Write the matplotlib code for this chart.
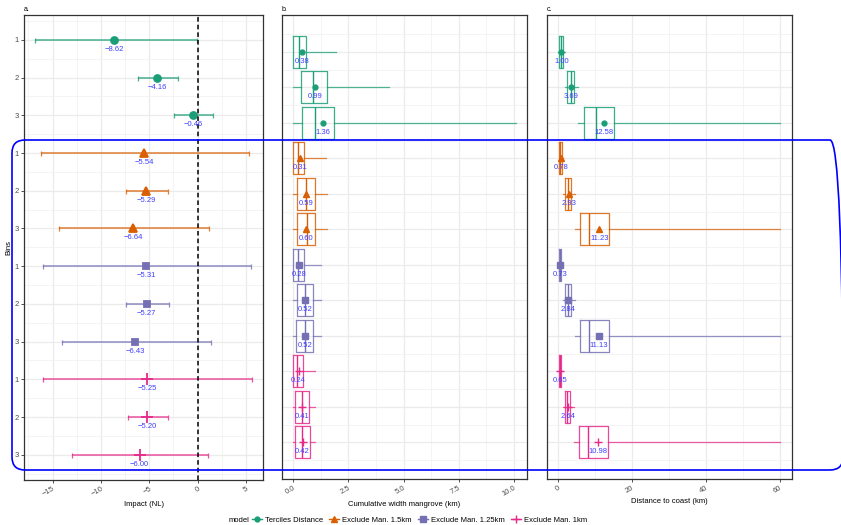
import matplotlib
matplotlib.use("Agg")
import matplotlib.pyplot as plt
from matplotlib.lines import Line2D
from matplotlib.patches import FancyBboxPatch
from matplotlib.ticker import MultipleLocator, FixedLocator

plt.rcParams['font.family'] = ['Liberation Sans', 'DejaVu Sans']

# ---------------- data ----------------
models = ["Terciles Distance", "Exclude Man. 1.5km", "Exclude Man. 1.25km", "Exclude Man. 1km"]
bins = ["1", "2", "3"]

# panel a: impact (NL)
impact_est = [-8.62, -4.16, -0.46, -5.54, -5.29, -6.64, -5.31, -5.27, -6.43, -5.25, -5.20, -6.00]
impact_lo = [-16.8, -6.2, -2.45, -16.2, -7.4, -14.3, -16.0, -7.4, -14.0, -16.0, -7.2, -13.0]
impact_hi = [-0.07, -2.04, 1.58, 5.3, -3.07, 1.17, 5.5, -2.97, 1.38, 5.6, -3.07, 1.07]

# panel b: cumulative width mangrove (km)
mang_lo = [0.0, 0.0, 0.0, 0.0, 0.0, 0.0, 0.0, 0.0, 0.0, 0.0, 0.0, 0.0]
mang_q1 = [0.0, 0.34, 0.38, 0.0, 0.18, 0.15, 0.0, 0.15, 0.12, 0.0, 0.09, 0.09]
mang_med = [0.27, 0.88, 0.99, 0.23, 0.59, 0.62, 0.23, 0.52, 0.52, 0.15, 0.39, 0.41]
mang_q3 = [0.59, 1.52, 1.84, 0.50, 0.97, 0.97, 0.48, 0.88, 0.88, 0.42, 0.73, 0.74]
mang_hi = [1.93, 4.35, 10.12, 1.47, 1.52, 1.52, 1.24, 1.24, 1.24, 1.0, 1.0, 1.0]
mang_mean = [0.38, 0.99, 1.36, 0.31, 0.59, 0.60, 0.28, 0.52, 0.52, 0.24, 0.41, 0.42]

# panel c: distance to coast (km)
coast_lo = [0.0, 2.0, 5.6, 0.27, 1.54, 4.7, 0.18, 1.54, 4.7, 0.2, 1.54, 4.5]
coast_q1 = [0.35, 2.6, 7.1, 0.35, 2.08, 5.96, 0.25, 1.99, 5.96, 0.25, 1.9, 5.7]
coast_med = [0.9, 3.5, 10.4, 0.65, 2.8, 8.58, 0.6, 2.8, 8.5, 0.55, 2.5, 8.13]
coast_q3 = [1.5, 4.5, 15.1, 1.08, 3.52, 13.73, 1.0, 3.52, 13.73, 1.0, 3.34, 13.6]
coast_hi = [2.0, 5.6, 60.0, 1.3, 4.7, 60.0, 1.2, 4.7, 60.0, 1.2, 4.4, 60.0]
coast_mean = [1.00, 3.69, 12.58, 0.78, 2.93, 11.23, 0.73, 2.84, 11.13, 0.65, 2.64, 10.98]

colors = ['#1B9E77', '#D95F02', '#7570B3', '#E7298A']
markers = ['o', '^', 's', '+']
label_color = '#3F3FFF'
FS = 5.5


def fmt(v):
    return f"{v:.2f}".replace('-', '\u2212')


def style_axis(ax):
    ax.set_facecolor('white')
    for s in ax.spines.values():
        s.set_color('#333333')
        s.set_linewidth(0.9)
    ax.grid(which='major', color='#EBEBEB', lw=0.9, zorder=0)
    ax.grid(which='minor', color='#F2F2F2', lw=0.6, zorder=0)
    ax.set_axisbelow(True)
    ax.tick_params(axis='x', which='major', length=2.5, width=0.6, color='#333333',
                   labelsize=FS, labelcolor='#4D4D4D', pad=1.5)
    ax.tick_params(which='minor', length=0)
    for lab in ax.get_xticklabels():
        lab.set_rotation(30)
        lab.set_ha('right')
        lab.set_rotation_mode('anchor')


fig = plt.figure(figsize=(8.41, 5.25), dpi=100)
W, H = 841, 525
axa = fig.add_axes([24 / W, 45 / H, 239 / W, 465 / H])
axb = fig.add_axes([282 / W, 46 / H, 245 / W, 464 / H])
axc = fig.add_axes([546.7 / W, 46 / H, 245 / W, 464 / H])

n = len(impact_est)
rows = list(range(n))
ylabels = [bins[i % 3] for i in rows]

# ---------------- panel a ----------------
for i in rows:
    m = i // 3
    c = colors[m]
    est = impact_est[i]
    axa.errorbar([est], [i], xerr=[[est - impact_lo[i]], [impact_hi[i] - est]], fmt='none',
                 ecolor=c, elinewidth=1.1, capsize=1.8, capthick=0.9, alpha=0.8, zorder=3)
    ms = {'o': 5, '^': 5.5, 's': 5, '+': 8}[markers[m]]
    axa.plot([est], [i], marker=markers[m], ms=ms, color=c, mew=1.3, ls='none', zorder=4)
    axa.text(est, i + 0.25, fmt(est), ha='center', va='center', color=label_color, fontsize=FS, zorder=5)
axa.axvline(0, color='black', ls=(0, (3, 2)), lw=1.1, zorder=4)
axa.set_xlim(-17.95, 6.75)
axa.set_ylim(11.67, -0.66)
axa.xaxis.set_major_locator(FixedLocator([-15, -10, -5, 0, 5]))
axa.xaxis.set_minor_locator(MultipleLocator(2.5))
axa.set_yticks(rows)
axa.set_yticklabels(ylabels)
axa.yaxis.set_minor_locator(FixedLocator([r - 0.5 for r in range(n + 1)]))
axa.tick_params(axis='y', which='major', length=2.5, width=0.6, color='#333333',
                labelsize=FS, labelcolor='#4D4D4D', pad=1.5)
style_axis(axa)
axa.set_xlabel('Impact (NL)', fontsize=FS, labelpad=2)
axa.set_ylabel('Bins', fontsize=FS, labelpad=1)
axa.set_title('a.', loc='left', fontsize=5, pad=3)


# ---------------- panels b and c ----------------
def box_panel(ax, lo, q1, med, q3, hi, mean):
    for i in rows:
        m = i // 3
        c = colors[m]
        st = [dict(whislo=lo[i], q1=q1[i], med=med[i], q3=q3[i], whishi=hi[i], fliers=[])]
        ax.bxp(st, positions=[i], widths=0.9, orientation='horizontal', showfliers=False,
               showcaps=False, manage_ticks=False,
               boxprops=dict(color=c, lw=0.9, alpha=0.85),
               whiskerprops=dict(color=c, lw=0.9, alpha=0.75),
               medianprops=dict(color=c, lw=1.0))
        ms = {'o': 3.5, '^': 4, 's': 3.8, '+': 6}[markers[m]]
        ax.plot([mean[i]], [i], marker=markers[m], ms=ms, color=c, mew=1.0, ls='none', zorder=4)
        ax.text(mean[i], i + 0.26, fmt(mean[i]), ha='center', va='center', color=label_color,
                fontsize=FS, zorder=5)
    ax.set_ylim(12.03, -1.04)
    ax.set_yticks(rows)
    ax.set_yticklabels([])
    ax.yaxis.set_minor_locator(FixedLocator([r - 0.5 for r in range(n + 1)]))
    ax.tick_params(axis='y', which='major', length=0)


box_panel(axb, mang_lo, mang_q1, mang_med, mang_q3, mang_hi, mang_mean)
axb.set_xlim(-0.51, 10.6)
axb.xaxis.set_major_locator(FixedLocator([0, 2.5, 5, 7.5, 10]))
axb.set_xticklabels(['0.0', '2.5', '5.0', '7.5', '10.0'])
axb.xaxis.set_minor_locator(MultipleLocator(1.25))
style_axis(axb)
axb.set_xlabel('Cumulative width mangrove (km)', fontsize=FS, labelpad=2)
axb.set_title('b.', loc='left', fontsize=5, pad=3)

box_panel(axc, coast_lo, coast_q1, coast_med, coast_q3, coast_hi, coast_mean)
axc.set_xlim(-3.0, 63.3)
axc.xaxis.set_major_locator(FixedLocator([0, 20, 40, 60]))
axc.xaxis.set_minor_locator(MultipleLocator(10))
style_axis(axc)
axc.set_xlabel('Distance to coast (km)', fontsize=FS, labelpad=2)
axc.set_title('c.', loc='left', fontsize=5, pad=3)

# ---------------- legend ----------------
handles = [Line2D([0], [0], color=colors[k], marker=markers[k], ls='-', lw=1.0,
                  ms={'o': 3.5, '^': 4, 's': 3.8, '+': 6}[markers[k]], mew=1.0)
           for k in range(4)]
fig.text(229 / W, 1 - 520 / H, 'model', fontsize=FS, va='center', ha='left')
fig.legend(handles, models, loc='center left', bbox_to_anchor=(252 / W, 1 - 520 / H),
           ncol=4, frameon=False, fontsize=FS, handlelength=1.3, handletextpad=0.4,
           columnspacing=0.8, borderpad=0, borderaxespad=0)

# ---------------- highlight rectangle ----------------
rect = FancyBboxPatch((12 / 100, (525 - 470) / 100), (843 - 12) / 100, (470 - 140) / 100,
                      boxstyle='round,pad=0,rounding_size=0.13', transform=fig.dpi_scale_trans,
                      fill=False, edgecolor='#0000FF', lw=1.2, zorder=20, clip_on=False)
fig.add_artist(rect)

fig.savefig('out.png', dpi=100, facecolor='white')
